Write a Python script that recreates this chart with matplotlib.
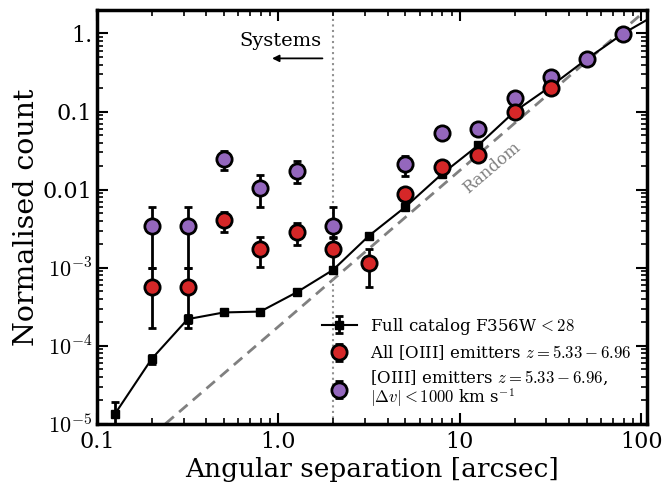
import numpy as np
import matplotlib
matplotlib.use("Agg")
import matplotlib.pyplot as plt
from matplotlib.ticker import FixedLocator, FixedFormatter, LogLocator, NullFormatter

plt.rcParams['font.family'] = ['DejaVu Serif']
plt.rcParams['mathtext.fontset'] = 'cm'

# Full catalog F356W < 28
full_x = [0.126, 0.2, 0.316, 0.5, 0.794, 1.26, 2.0, 3.16, 5.0, 7.94, 12.6, 20.0, 31.6, 50.0, 79.4, 126.0]
full_y = [1.36e-5, 6.8e-5, 2.2e-4, 2.68e-4, 2.75e-4, 4.85e-4, 9.4e-4, 2.58e-3, 6.0e-3, 0.0158, 0.0369, 0.100, 0.210, 0.47, 1.0, 1.85]
full_err_lo = [0.9e-5, 0.9e-5, 0.25e-4, 0.2e-4, 0.2e-4, 0.3e-4, 0.6e-4, 1.5e-4, 3e-4, 6e-4, 1.5e-3, 3e-3, 5e-3, 0.01, 0.02, 0.03]
full_err_hi = [0.55e-5, 0.9e-5, 0.25e-4, 0.2e-4, 0.2e-4, 0.3e-4, 0.6e-4, 1.5e-4, 3e-4, 6e-4, 1.5e-3, 3e-3, 5e-3, 0.01, 0.02, 0.03]

# All [OIII] emitters
red_x = [0.2, 0.316, 0.5, 0.794, 1.26, 2.0, 3.16, 5.0, 7.94, 12.6, 20.0, 31.6]
red_y = [5.7e-4, 5.7e-4, 4.07e-3, 1.74e-3, 2.9e-3, 1.74e-3, 1.15e-3, 8.7e-3, 0.0198, 0.028, 0.098, 0.202]
red_err_lo = [4.0e-4, 4.0e-4, 1.17e-3, 0.71e-3, 0.92e-3, 0.71e-3, 0.58e-3, 1.5e-3, 2.0e-3, 2.5e-3, 6e-3, 0.01]
red_err_hi = [4.2e-4, 4.2e-4, 1.13e-3, 0.72e-3, 0.86e-3, 0.72e-3, 0.59e-3, 1.5e-3, 2.0e-3, 2.5e-3, 6e-3, 0.01]

# [OIII] emitters with |dv| < 1000 km/s
pur_x = [0.2, 0.316, 0.5, 0.794, 1.26, 2.0, 5.0, 7.94, 12.6, 20.0, 31.6, 50.0, 79.4]
pur_y = [3.47e-3, 3.47e-3, 0.0244, 0.0104, 0.0176, 3.47e-3, 0.0212, 0.0527, 0.0606, 0.149, 0.277, 0.465, 0.98]
pur_err_lo = [2.47e-3, 2.47e-3, 6.6e-3, 4.4e-3, 5.5e-3, 1.07e-3, 6.2e-3, 4e-3, 4e-3, 8e-3, 0.012, 0.015, 0.02]
pur_err_hi = [2.53e-3, 2.53e-3, 7.1e-3, 4.8e-3, 5.9e-3, 2.53e-3, 6.1e-3, 4e-3, 4e-3, 8e-3, 0.012, 0.015, 0.02]

# Random expectation (straight line in log-log)
random_x = [0.1, 110.0]
random_y = [1.77e-6, 2.14]

system_sep = 2.0

xticks = [0.1, 1.0, 10, 100]
xticklabels = ['0.1', '1.0', '10', '100']
yticks = [1e-5, 1e-4, 1e-3, 1e-2, 1e-1, 1.0]
yticklabels = ['$10^{-5}$', '$10^{-4}$', '$10^{-3}$', '0.01', '0.1', '1.']

fig = plt.figure(figsize=(6.63, 4.87), dpi=100)
ax = fig.add_axes([0.1463, 0.1294, 0.8291, 0.8501])
ax.set_xscale('log')
ax.set_yscale('log')

ax.plot(random_x, random_y, ls=(0, (4, 2.5)), color='#808080', lw=2, zorder=1)
ax.axvline(system_sep, color='#909090', ls=':', lw=1.5, zorder=1)

ax.errorbar(full_x, full_y, yerr=[full_err_lo, full_err_hi], fmt='-s', color='black',
            ms=5.5, lw=1.5, elinewidth=2, capsize=3, capthick=2, zorder=3,
            label='Full catalog F356W$\\,<28$')
ax.errorbar(pur_x, pur_y, yerr=[pur_err_lo, pur_err_hi], fmt='o', mfc='#9467bd', mec='black',
            mew=2, ms=11, ecolor='black', elinewidth=2, capsize=3, capthick=2, zorder=4,
            label='[OIII] emitters $z=5.33-6.96$,\n$|\\Delta v|<1000$ km s$^{-1}$')
ax.errorbar(red_x, red_y, yerr=[red_err_lo, red_err_hi], fmt='o', mfc='#d62728', mec='black',
            mew=2, ms=11, ecolor='black', elinewidth=2, capsize=3, capthick=2, zorder=5,
            label='All [OIII] emitters $z=5.33-6.96$')

ax.set_xlim(0.1, 107)
ax.set_ylim(1e-5, 2.0)

ax.text(15, 0.019, 'Random', rotation=40.5, color='#808080', fontsize=12,
        ha='center', va='center', rotation_mode='anchor')
ax.text(1.72, 0.80, 'Systems', fontsize=14, ha='right', va='center')
ax.annotate('', xy=(0.89, 0.48), xytext=(1.81, 0.48),
            arrowprops=dict(arrowstyle='-|>', color='black', lw=1.3, mutation_scale=10))

ax.xaxis.set_major_locator(FixedLocator(xticks))
ax.xaxis.set_major_formatter(FixedFormatter(xticklabels))
ax.xaxis.set_minor_locator(LogLocator(base=10, subs=np.arange(2, 10)))
ax.xaxis.set_minor_formatter(NullFormatter())
ax.yaxis.set_major_locator(FixedLocator(yticks))
ax.yaxis.set_major_formatter(FixedFormatter(yticklabels))
ax.yaxis.set_minor_locator(LogLocator(base=10, subs=np.arange(2, 10), numticks=20))
ax.yaxis.set_minor_formatter(NullFormatter())

ax.tick_params(which='both', direction='in', top=True, right=True, labelsize=16)
ax.tick_params(axis='x', which='major', pad=5)
ax.tick_params(which='major', length=8, width=1.5)
ax.tick_params(which='minor', length=4, width=1.2)
for s in ax.spines.values():
    s.set_linewidth(2.5)

ax.set_xlabel('Angular separation [arcsec]', fontsize=19, labelpad=3)
ax.set_ylabel('Normalised count', fontsize=20.5, labelpad=2)

h, l = ax.get_legend_handles_labels()
order = [0, 2, 1]
leg = ax.legend([h[i] for i in order], [l[i] for i in order], loc='lower right', frameon=False,
                fontsize=12, handlelength=2.1, handletextpad=0.8, labelspacing=0.4,
                borderaxespad=0.5, bbox_to_anchor=(1.0, 0.0))
leg.get_texts()[2].set_linespacing(0.95)

fig.savefig('out.png', dpi=100)
